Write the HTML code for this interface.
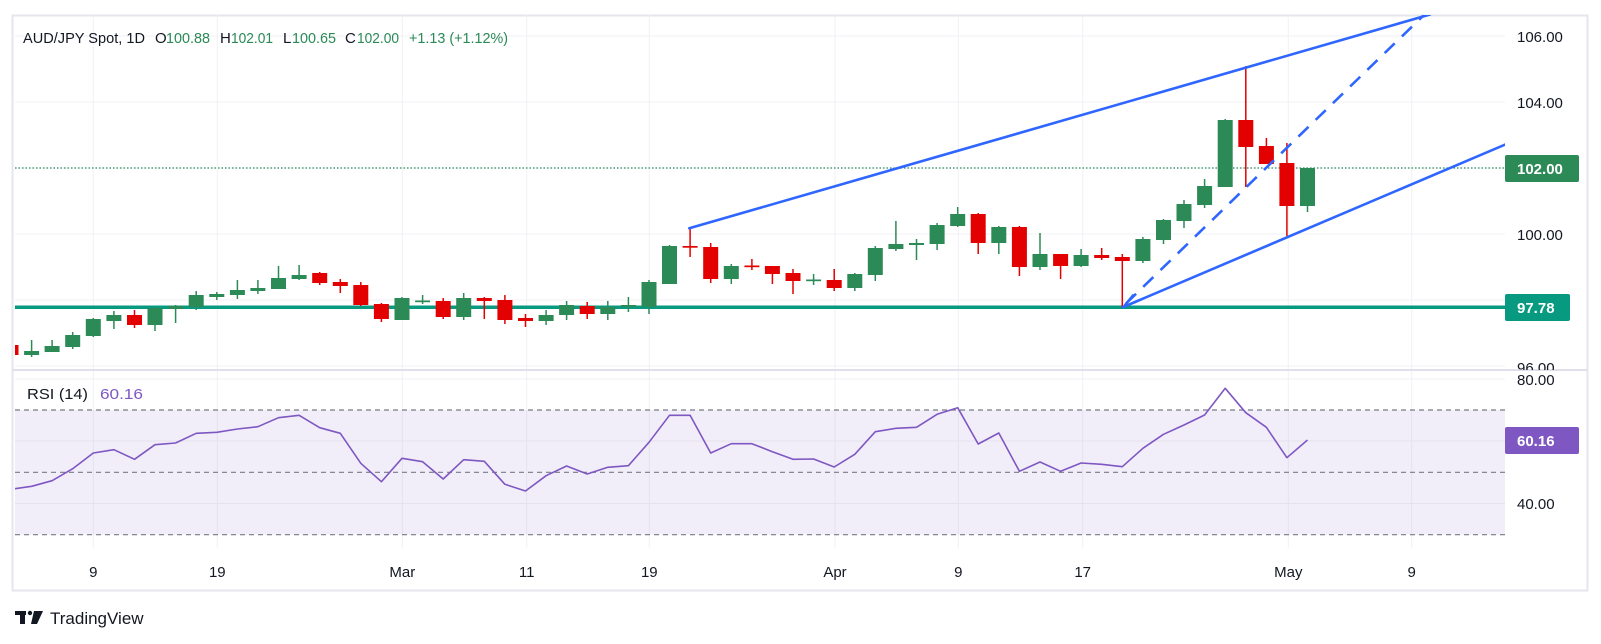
<!DOCTYPE html>
<html><head><meta charset="utf-8"><style>
html,body{margin:0;padding:0;background:#fff;}
svg{display:block;font-family:"Liberation Sans",sans-serif;}
.g{fill:#2c8a57}.r{fill:#e30000}
.gw{stroke:#2c8a57;stroke-width:1.5}.rw{stroke:#e30000;stroke-width:1.5}
.ax{fill:#131722;font-size:15px}
</style></head><body>
<svg width="1601" height="644" viewBox="0 0 1601 644" xmlns="http://www.w3.org/2000/svg">
<defs>
<clipPath id="pc"><rect x="15" y="15" width="1490" height="355"/></clipPath>
<clipPath id="rc"><rect x="15" y="371" width="1490" height="177"/></clipPath>
<clipPath id="ac"><rect x="1505" y="15" width="82" height="355"/></clipPath>
</defs>
<rect x="12.5" y="15.5" width="1575" height="575" fill="#fff" stroke="#e6e6ee" stroke-width="2"/>
<!-- grids -->
<g stroke="#f0f1f5" stroke-width="1">
<line x1="15" x2="1505" y1="36" y2="36"/><line x1="15" x2="1505" y1="102" y2="102"/>
<line x1="15" x2="1505" y1="168" y2="168"/><line x1="15" x2="1505" y1="234" y2="234"/>
<line x1="15" x2="1505" y1="300" y2="300"/><line x1="15" x2="1505" y1="366" y2="366"/>
<line x1="15" x2="1505" y1="379" y2="379"/><line x1="15" x2="1505" y1="441" y2="441"/><line x1="15" x2="1505" y1="503.5" y2="503.5"/>
<line x1="93.3" x2="93.3" y1="15" y2="548"/><line x1="217.3" x2="217.3" y1="15" y2="548"/>
<line x1="402.3" x2="402.3" y1="15" y2="548"/><line x1="526.7" x2="526.7" y1="15" y2="548"/>
<line x1="649.3" x2="649.3" y1="15" y2="548"/><line x1="835" x2="835" y1="15" y2="548"/>
<line x1="958.3" x2="958.3" y1="15" y2="548"/><line x1="1082.7" x2="1082.7" y1="15" y2="548"/>
<line x1="1288.3" x2="1288.3" y1="15" y2="548"/><line x1="1411.7" x2="1411.7" y1="15" y2="548"/>
</g>
<line x1="13" x2="1587" y1="370" y2="370" stroke="#e0e0ea" stroke-width="2"/>

<g clip-path="url(#pc)">
<line x1="15" x2="1505" y1="168" y2="168" stroke="#2c8a57" stroke-width="1.2" stroke-dasharray="1.5 2"/>
<line x1="15" x2="1505" y1="307.3" y2="307.3" stroke="#089981" stroke-width="3.5"/>
<g class="gw">
<line x1="31.6" x2="31.6" y1="340" y2="357"/><line x1="52.1" x2="52.1" y1="340" y2="352"/><line x1="72.7" x2="72.7" y1="332" y2="349"/>
<line x1="93.3" x2="93.3" y1="318" y2="337"/><line x1="113.9" x2="113.9" y1="311" y2="329"/><line x1="155" x2="155" y1="308" y2="331"/>
<line x1="175.6" x2="175.6" y1="305" y2="323"/><line x1="196.2" x2="196.2" y1="291" y2="310"/><line x1="216.8" x2="216.8" y1="292" y2="300"/>
<line x1="237.4" x2="237.4" y1="280" y2="299"/><line x1="257.9" x2="257.9" y1="280" y2="294"/><line x1="278.5" x2="278.5" y1="266" y2="289"/>
<line x1="299.1" x2="299.1" y1="265" y2="280"/><line x1="402" x2="402" y1="297" y2="320"/><line x1="422.6" x2="422.6" y1="295" y2="304"/>
<line x1="463.7" x2="463.7" y1="293" y2="320"/><line x1="546.1" x2="546.1" y1="310" y2="325"/><line x1="566.6" x2="566.6" y1="301" y2="320"/>
<line x1="607.8" x2="607.8" y1="301" y2="320"/><line x1="628.4" x2="628.4" y1="297" y2="312"/><line x1="649" x2="649" y1="280" y2="314"/>
<line x1="669.5" x2="669.5" y1="245" y2="284"/><line x1="731.3" x2="731.3" y1="264" y2="284"/><line x1="813.6" x2="813.6" y1="274" y2="285"/>
<line x1="854.8" x2="854.8" y1="273" y2="291"/><line x1="875.3" x2="875.3" y1="246" y2="281"/><line x1="895.9" x2="895.9" y1="221" y2="251"/>
<line x1="916.5" x2="916.5" y1="239" y2="260"/><line x1="937.1" x2="937.1" y1="223" y2="250"/><line x1="957.7" x2="957.7" y1="207" y2="227"/>
<line x1="998.8" x2="998.8" y1="226" y2="254"/><line x1="1040" x2="1040" y1="233" y2="270"/><line x1="1081.1" x2="1081.1" y1="249" y2="267"/>
<line x1="1142.9" x2="1142.9" y1="237" y2="263"/><line x1="1163.5" x2="1163.5" y1="219" y2="244"/><line x1="1184" x2="1184" y1="200" y2="228"/>
<line x1="1204.6" x2="1204.6" y1="179" y2="208"/><line x1="1225.2" x2="1225.2" y1="119" y2="187"/><line x1="1307.5" x2="1307.5" y1="168" y2="212"/>
</g>
<g class="rw">
<line x1="11" x2="11" y1="343" y2="357"/><line x1="134.5" x2="134.5" y1="310" y2="328"/><line x1="319.7" x2="319.7" y1="272" y2="285"/>
<line x1="340.3" x2="340.3" y1="279" y2="293"/><line x1="360.8" x2="360.8" y1="282" y2="306"/><line x1="381.4" x2="381.4" y1="303" y2="322"/>
<line x1="443.2" x2="443.2" y1="298" y2="319"/><line x1="484.3" x2="484.3" y1="297" y2="319"/><line x1="504.9" x2="504.9" y1="295" y2="324"/>
<line x1="525.5" x2="525.5" y1="314" y2="327"/><line x1="587.2" x2="587.2" y1="302" y2="319"/><line x1="690.1" x2="690.1" y1="229" y2="257"/>
<line x1="710.7" x2="710.7" y1="243" y2="283"/><line x1="751.9" x2="751.9" y1="259" y2="270"/><line x1="772.4" x2="772.4" y1="266" y2="284"/>
<line x1="793" x2="793" y1="269" y2="294"/><line x1="834.2" x2="834.2" y1="269" y2="291"/><line x1="978.2" x2="978.2" y1="213" y2="254"/>
<line x1="1019.4" x2="1019.4" y1="226" y2="276"/><line x1="1060.6" x2="1060.6" y1="254" y2="279"/><line x1="1101.7" x2="1101.7" y1="248" y2="260"/>
<line x1="1122.3" x2="1122.3" y1="254" y2="307"/><line x1="1245.8" x2="1245.8" y1="66" y2="187"/><line x1="1266.4" x2="1266.4" y1="138" y2="164"/>
<line x1="1286.9" x2="1286.9" y1="143" y2="236"/>
</g>
<g class="g">
<rect x="24.1" y="351" width="15" height="4"/><rect x="44.6" y="346" width="15" height="6"/><rect x="65.2" y="335" width="15" height="12"/>
<rect x="85.8" y="319" width="15" height="17"/><rect x="106.4" y="315" width="15" height="6"/><rect x="147.5" y="308" width="15" height="17"/>
<rect x="168.1" y="306" width="15" height="3"/><rect x="188.7" y="295" width="15" height="12"/><rect x="209.3" y="294" width="15" height="3"/>
<rect x="229.9" y="290" width="15" height="5"/><rect x="250.4" y="288" width="15" height="3"/><rect x="271" y="278" width="15" height="11"/>
<rect x="291.6" y="275" width="15" height="4"/><rect x="394.5" y="298" width="15" height="22"/><rect x="415.1" y="300.5" width="15" height="1.7"/>
<rect x="456.2" y="298" width="15" height="19"/><rect x="538.6" y="315" width="15" height="6"/><rect x="559.1" y="305" width="15" height="10"/>
<rect x="600.3" y="307" width="15" height="7"/><rect x="620.9" y="305" width="15" height="2"/><rect x="641.5" y="282" width="15" height="25"/>
<rect x="662" y="246" width="15" height="38"/><rect x="723.8" y="266" width="15" height="13"/><rect x="806.1" y="279.5" width="15" height="1.7"/>
<rect x="847.3" y="274" width="15" height="14"/><rect x="867.8" y="248" width="15" height="27"/><rect x="888.4" y="244" width="15" height="5"/>
<rect x="909" y="243" width="15" height="2"/><rect x="929.6" y="225" width="15" height="19"/><rect x="950.2" y="214" width="15" height="12"/>
<rect x="991.3" y="227" width="15" height="16"/><rect x="1032.5" y="254" width="15" height="13"/><rect x="1073.6" y="255" width="15" height="11"/>
<rect x="1135.4" y="239" width="15" height="22"/><rect x="1156" y="220" width="15" height="20"/><rect x="1176.5" y="204" width="15" height="17"/>
<rect x="1197.1" y="186" width="15" height="19"/><rect x="1217.7" y="120" width="15" height="67"/><rect x="1300" y="168" width="15" height="38"/>
</g>
<g class="r">
<rect x="3.5" y="345" width="15" height="10"/><rect x="127" y="315" width="15" height="10"/><rect x="312.2" y="273" width="15" height="10"/>
<rect x="332.8" y="282" width="15" height="4"/><rect x="353.3" y="285" width="15" height="20"/><rect x="373.9" y="304" width="15" height="15"/>
<rect x="435.7" y="301" width="15" height="16"/><rect x="476.8" y="298" width="15" height="3"/><rect x="497.4" y="300" width="15" height="20"/>
<rect x="518" y="318" width="15" height="3"/><rect x="579.7" y="306" width="15" height="8"/><rect x="682.6" y="246" width="15" height="1.7"/>
<rect x="703.2" y="247" width="15" height="32"/><rect x="744.4" y="265.5" width="15" height="1.7"/><rect x="764.9" y="266" width="15" height="8"/>
<rect x="785.5" y="273" width="15" height="8"/><rect x="826.7" y="280" width="15" height="8"/><rect x="970.7" y="214" width="15" height="29"/>
<rect x="1011.9" y="227" width="15" height="40"/><rect x="1053.1" y="254" width="15" height="12"/><rect x="1094.2" y="255" width="15" height="3"/>
<rect x="1114.8" y="257" width="15" height="4"/><rect x="1238.3" y="120" width="15" height="27"/><rect x="1258.9" y="146" width="15" height="18"/>
<rect x="1279.4" y="163" width="15" height="43"/>
</g>
<g stroke="#2f66ff" stroke-width="2.6" fill="none" stroke-linecap="round">
<line x1="689.3" y1="228.3" x2="1430" y2="14.5"/>
<line x1="1123.3" y1="307" x2="1510" y2="142.5"/>
<line x1="1126" y1="303.5" x2="1424" y2="15" stroke-dasharray="14 10" stroke-linecap="butt"/>
<polyline points="1133,295 1124,306 1136,302" stroke-width="2"/>
</g>
</g>

<!-- RSI -->
<g clip-path="url(#rc)">
<rect x="15" y="410" width="1490" height="124.7" fill="#7e57c2" fill-opacity="0.1"/>
<g stroke="#787b86" stroke-width="1.2" stroke-dasharray="5 4">
<line x1="15" x2="1505" y1="410" y2="410"/><line x1="15" x2="1505" y1="472.3" y2="472.3"/><line x1="15" x2="1505" y1="534.7" y2="534.7"/>
</g>
<polyline fill="none" stroke="#7e57c2" stroke-width="1.6" stroke-linejoin="round" points="15,488.7 31.6,486.3 52.1,480.7 72.7,468.7 93.3,453 113.9,449.7 134.5,459.3 155,444.7 175.6,443 196.2,433.3 216.8,432.3 237.4,429 257.9,426.7 278.5,417.7 299.1,415.3 319.7,427.7 340.3,433.3 360.8,463.3 381.4,481.7 402,458.3 422.6,461.7 443.2,479 463.7,459.7 484.3,461.3 504.9,484.3 525.5,491 546.1,475.7 566.6,466 587.2,474 607.8,467.3 628.4,465.7 649,442.3 669.5,415.3 690.1,415.3 710.7,453 731.3,443.7 751.9,443.7 772.4,451.7 793,459.3 813.6,459 834.2,467 854.8,454.3 875.3,431.7 895.9,428.3 916.5,427.3 937.1,414.3 957.7,407.7 978.2,444 998.8,433 1019.4,471.3 1040,462 1060.6,471.3 1081.1,463 1101.7,464.3 1122.3,466.7 1142.9,448.3 1163.5,434.3 1184,425 1204.6,415 1225.2,388.3 1245.8,412.7 1266.4,427.3 1286.9,457.7 1307.5,440"/>
</g>

<!-- header -->
<text x="23" y="43" font-size="15" fill="#131722" textLength="122" lengthAdjust="spacingAndGlyphs">AUD/JPY Spot, 1D</text>
<text x="155" y="43" font-size="15" fill="#131722">O</text>
<text x="166" y="43" font-size="15" fill="#2a8a57" textLength="44" lengthAdjust="spacingAndGlyphs">100.88</text>
<text x="220" y="43" font-size="15" fill="#131722">H</text>
<text x="231" y="43" font-size="15" fill="#2a8a57" textLength="42" lengthAdjust="spacingAndGlyphs">102.01</text>
<text x="283" y="43" font-size="15" fill="#131722">L</text>
<text x="292" y="43" font-size="15" fill="#2a8a57" textLength="44" lengthAdjust="spacingAndGlyphs">100.65</text>
<text x="345" y="43" font-size="15" fill="#131722">C</text>
<text x="357" y="43" font-size="15" fill="#2a8a57" textLength="42" lengthAdjust="spacingAndGlyphs">102.00</text>
<text x="409" y="43" font-size="15" fill="#2a8a57" textLength="99" lengthAdjust="spacingAndGlyphs">+1.13 (+1.12%)</text>
<text x="27" y="399" font-size="15" fill="#131722" textLength="61" lengthAdjust="spacingAndGlyphs">RSI (14)</text>
<text x="100" y="399" font-size="15" fill="#7e57c2" textLength="43" lengthAdjust="spacingAndGlyphs">60.16</text>

<!-- price axis -->
<g clip-path="url(#ac)">
<text class="ax" x="1517" y="42">106.00</text>
<text class="ax" x="1517" y="108">104.00</text>
<text class="ax" x="1517" y="240">100.00</text>
<text class="ax" x="1517" y="373">96.00</text>
</g>
<rect x="1505" y="155" width="74" height="27" rx="2" fill="#2c8a57"/>
<text x="1517" y="174" font-size="15" font-weight="bold" fill="#fff">102.00</text>
<rect x="1505" y="294" width="65" height="27" rx="2" fill="#089981"/>
<text x="1517" y="313" font-size="15" font-weight="bold" fill="#fff">97.78</text>
<text class="ax" x="1517" y="385">80.00</text>
<text class="ax" x="1517" y="509">40.00</text>
<rect x="1505" y="427" width="74" height="27" rx="2" fill="#7e57c2"/>
<text x="1517" y="446" font-size="15" font-weight="bold" fill="#fff">60.16</text>

<!-- time axis -->
<g class="ax" text-anchor="middle">
<text x="93.3" y="577">9</text><text x="217.3" y="577">19</text><text x="402.3" y="577">Mar</text>
<text x="526.7" y="577">11</text><text x="649.3" y="577">19</text><text x="835" y="577">Apr</text>
<text x="958.3" y="577">9</text><text x="1082.7" y="577">17</text><text x="1288.3" y="577">May</text>
<text x="1411.7" y="577">9</text>
</g>

<!-- logo -->
<g fill="#131722">
<rect x="15" y="611" width="11" height="4"/><rect x="20" y="611" width="5" height="13"/>
<circle cx="30" cy="613" r="2.2"/><polygon points="34,611 43,611 37,624 31,624"/>
</g>
<text x="50" y="624" font-size="17" fill="#131722">TradingView</text>
</svg>
</body></html>
